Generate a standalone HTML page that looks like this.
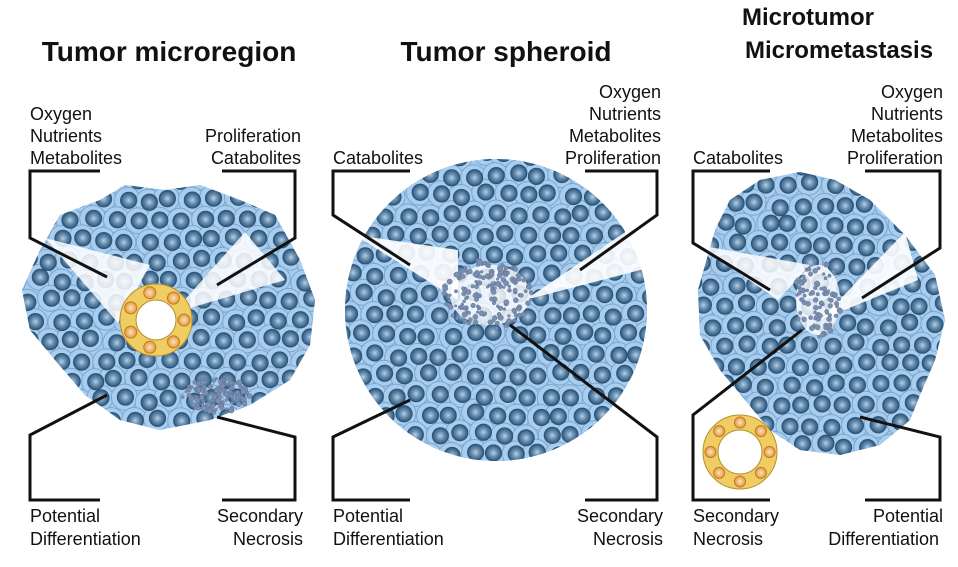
<!DOCTYPE html>
<html><head><meta charset="utf-8"><style>
html,body{margin:0;padding:0;background:#fff;width:958px;height:567px;overflow:hidden}
svg{display:block}
text{font-family:"Liberation Sans",Arial,sans-serif;fill:#111}
.t{font-size:28px;font-weight:bold}
.t2{font-size:24px;font-weight:bold}
.l{font-size:18px}
</style></head><body>
<svg id="s" width="958" height="567" viewBox="0 0 958 567" xmlns="http://www.w3.org/2000/svg">
<defs>
<radialGradient id="nuc" cx="50%" cy="50%" r="50%">
<stop offset="0" stop-color="#b8cfe2"/><stop offset="0.45" stop-color="#6d93b5"/><stop offset="1" stop-color="#2f587c"/>
</radialGradient>
<radialGradient id="ynuc" cx="50%" cy="50%" r="50%">
<stop offset="0" stop-color="#fbe3c0"/><stop offset="1" stop-color="#e59a3a"/>
</radialGradient>
<clipPath id="c1"><path d="M40,250 L60,215 L100,200 L125,185 L165,190 L200,185 L240,200 L275,215 L300,260 L315,300 L310,345 L290,380 L250,405 L210,420 L160,430 L120,420 L85,395 L55,360 L30,330 L22,290 Z"/></clipPath>
<clipPath id="c2"><circle cx="496" cy="310" r="151"/></clipPath>
<clipPath id="c3"><path d="M715,230 L730,200 L760,180 L800,172 L835,180 L870,200 L905,235 L935,275 L945,320 L935,360 L920,395 L910,420 L880,445 L840,455 L800,450 L770,430 L745,400 L720,370 L700,335 L698,290 Z"/></clipPath>
</defs>
<g id="cells"></g>
<g id="over"></g>
<g fill="none" stroke="#111" stroke-width="3">
<polyline points="100,171 30,171 30,238 107,277"/>
<polyline points="222,171 295,171 295,238 217,285"/>
<polyline points="107,395 30,435 30,500 100,500"/>
<polyline points="217,417 295,437 295,500 222,500"/>
<polyline points="410,171 333,171 333,215 410,265"/>
<polyline points="585,171 657,171 657,215 580,270"/>
<polyline points="410,400 333,437 333,500 410,500"/>
<polyline points="510,325 657,437 657,500 585,500"/>
<polyline points="770,171 693,171 693,243 770,290"/>
<polyline points="865,171 940,171 940,248 862,298"/>
<polyline points="802,330 693,415 693,500 770,500"/>
<polyline points="860,417 940,437 940,500 865,500"/>
</g>
<text class="t" x="169" y="61" text-anchor="middle">Tumor microregion</text>
<text class="t" x="506" y="61" text-anchor="middle">Tumor spheroid</text>
<text class="t2" x="808" y="25" text-anchor="middle">Microtumor</text>
<text class="t2" x="839" y="58" text-anchor="middle">Micrometastasis</text>
<g>
<text class="l" x="30" y="120">Oxygen</text>
<text class="l" x="30" y="142">Nutrients</text>
<text class="l" x="30" y="164">Metabolites</text>
<text class="l" x="301" y="142" text-anchor="end">Proliferation</text>
<text class="l" x="301" y="164" text-anchor="end">Catabolites</text>
<text class="l" x="30" y="522">Potential</text>
<text class="l" x="30" y="545">Differentiation</text>
<text class="l" x="303" y="522" text-anchor="end">Secondary</text>
<text class="l" x="303" y="545" text-anchor="end">Necrosis</text>
<text class="l" x="333" y="164">Catabolites</text>
<text class="l" x="661" y="98" text-anchor="end">Oxygen</text>
<text class="l" x="661" y="120" text-anchor="end">Nutrients</text>
<text class="l" x="661" y="142" text-anchor="end">Metabolites</text>
<text class="l" x="661" y="164" text-anchor="end">Proliferation</text>
<text class="l" x="333" y="522">Potential</text>
<text class="l" x="333" y="545">Differentiation</text>
<text class="l" x="663" y="522" text-anchor="end">Secondary</text>
<text class="l" x="663" y="545" text-anchor="end">Necrosis</text>
<text class="l" x="693" y="164">Catabolites</text>
<text class="l" x="943" y="98" text-anchor="end">Oxygen</text>
<text class="l" x="943" y="120" text-anchor="end">Nutrients</text>
<text class="l" x="943" y="142" text-anchor="end">Metabolites</text>
<text class="l" x="943" y="164" text-anchor="end">Proliferation</text>
<text class="l" x="693" y="522">Secondary</text>
<text class="l" x="693" y="545">Necrosis</text>
<text class="l" x="943" y="522" text-anchor="end">Potential</text>
<text class="l" x="939" y="545" text-anchor="end">Differentiation</text>
</g>
</svg>
<script>
(function(){
var NS="http://www.w3.org/2000/svg";
var cells=document.getElementById("cells"),over=document.getElementById("over");
var seed=7;function r(){seed=(seed*16807)%2147483647;return seed/2147483647;}
function el(p,tag,a){var e=document.createElementNS(NS,tag);for(var k in a)e.setAttribute(k,a[k]);p.appendChild(e);return e;}
function panel(clip,x0,y0,x1,y1){
 var g=el(cells,"g",{"clip-path":"url(#"+clip+")"});
 el(g,"rect",{x:x0,y:y0,width:x1-x0,height:y1-y0,fill:"#a9cbeb"});
 var pts=[];
 for(var y=y0;y<y1;y+=20){for(var x=x0+((y/20|0)%2)*11;x<x1;x+=22){pts.push([x+(r()-0.5)*6,y+(r()-0.5)*6]);}}
 pts.forEach(function(p){el(g,"circle",{cx:p[0],cy:p[1],r:13,fill:"#a9cdee",stroke:"#7aa7d0","stroke-width":1});});
 pts.forEach(function(p){el(g,"circle",{cx:p[0]+1,cy:p[1],r:8,fill:"url(#nuc)",stroke:"#2c5578","stroke-width":1.2});});
}
panel("c1",15,180,320,435);
panel("c2",340,155,650,465);
panel("c3",690,165,950,460);
function poly(pts,fill,op){el(over,"polygon",{points:pts,fill:fill,"fill-opacity":op||1});}
poly("118,323 45,238 150,265","#fff",0.85);
poly("173,313 245,232 285,280","#fff",0.85);
poly("458,300 355,235 458,250","#fff",0.9);
poly("525,300 640,222 648,268","#fff",0.9);
poly("778,300 698,245 810,265","#fff",0.85);
poly("820,320 905,232 918,280","#fff",0.9);
function dots(cx,cy,rx,ry,n){for(var i=0;i<n;i++){var a=r()*6.283,d=Math.sqrt(r());el(over,"circle",{cx:cx+Math.cos(a)*rx*d,cy:cy+Math.sin(a)*ry*d,r:1.3+r()*1.5,fill:"#7d8fb0",stroke:"#536a90","stroke-width":0.4});}}
dots(215,395,35,18,120);
el(over,"ellipse",{cx:490,cy:295,rx:40,ry:30,fill:"#fff","fill-opacity":0.8});
dots(488,295,45,35,160);
el(over,"ellipse",{cx:818,cy:300,rx:22,ry:35,fill:"#fff","fill-opacity":0.8});
dots(818,300,25,40,90);
function ring(cx,cy,R,ri,n){
 el(over,"circle",{cx:cx,cy:cy,r:R,fill:"#f0cd63",stroke:"#b8902a","stroke-width":1});
 for(var i=0;i<n;i++){var a=i*6.283/n;el(over,"circle",{cx:cx+Math.cos(a)*(R+ri)/2,cy:cy+Math.sin(a)*(R+ri)/2,r:(R-ri)/2-2,fill:"url(#ynuc)",stroke:"#c07a25","stroke-width":1});}
 el(over,"circle",{cx:cx,cy:cy,r:ri,fill:"#fff",stroke:"#b8902a","stroke-width":1});
}
ring(156,320,36,20,7);
ring(740,452,37,22,8);
})();
</script>
</body></html>
